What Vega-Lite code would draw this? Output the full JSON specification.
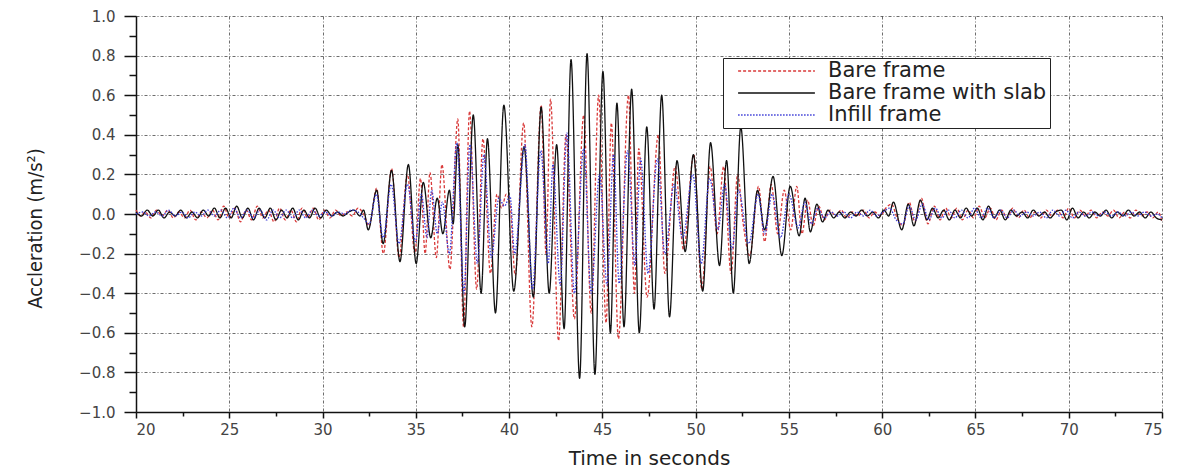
{
"$schema": "https://vega.github.io/schema/vega-lite/v6.json",
"width": 1026, "height": 396,
"autosize": {"type": "none"},
"padding": {"left": 136, "top": 16, "right": 20, "bottom": 59},
"background": "white",
"config": {
 "view": {"stroke": null},
 "legend": {"orient": "none", "legendX": 587, "legendY": 42, "strokeColor": "#222", "fillColor": "white", "padding": 3, "symbolType": "stroke", "symbolSize": 5900, "symbolStrokeWidth": 1.3, "symbolOffset": 11, "labelFont": "DejaVu Sans", "labelFontSize": 21, "labelColor": "#222", "labelOffset": 12, "clipHeight": 20, "rowPadding": 1, "title": null, "labelLimit": 400}
},
"data": {"values": [
{"k":"B","t":20.0,"a":0.02},{"k":"B","t":20.25,"a":-0.01},{"k":"B","t":20.5,"a":0.01},{"k":"B","t":20.8,"a":-0.02},{"k":"B","t":21.1,"a":0.02},{"k":"B","t":21.4,"a":-0.01},{"k":"B","t":21.7,"a":0.02},{"k":"B","t":22.0,"a":-0.02},{"k":"B","t":22.3,"a":0.01},{"k":"B","t":22.6,"a":-0.02},{"k":"B","t":22.9,"a":0.02},{"k":"B","t":23.2,"a":-0.03},{"k":"B","t":23.5,"a":0.01},{"k":"B","t":23.8,"a":-0.02},{"k":"B","t":24.1,"a":0.02},{"k":"B","t":24.4,"a":-0.03},{"k":"B","t":24.7,"a":0.04},{"k":"B","t":25.0,"a":-0.02},{"k":"B","t":25.3,"a":0.03},{"k":"B","t":25.6,"a":-0.04},{"k":"B","t":25.9,"a":0.02},{"k":"B","t":26.2,"a":-0.03},{"k":"B","t":26.5,"a":0.04},{"k":"B","t":26.8,"a":-0.02},{"k":"B","t":27.1,"a":0.02},{"k":"B","t":27.4,"a":-0.04},{"k":"B","t":27.7,"a":0.03},{"k":"B","t":28.0,"a":-0.03},{"k":"B","t":28.3,"a":0.02},{"k":"B","t":28.6,"a":-0.04},{"k":"B","t":28.9,"a":0.03},{"k":"B","t":29.2,"a":-0.02},{"k":"B","t":29.5,"a":0.03},{"k":"B","t":29.8,"a":-0.03},{"k":"B","t":30.1,"a":0.02},{"k":"B","t":30.4,"a":-0.02},{"k":"B","t":30.7,"a":0.02},{"k":"B","t":31.0,"a":-0.01},{"k":"B","t":31.3,"a":0.01},{"k":"B","t":31.6,"a":-0.01},{"k":"B","t":31.9,"a":0.03},{"k":"B","t":32.2,"a":0.0},{"k":"B","t":32.5,"a":-0.06},{"k":"B","t":32.9,"a":0.13},{"k":"B","t":33.26,"a":-0.2},{"k":"B","t":33.7,"a":0.23},{"k":"B","t":34.1,"a":-0.22},{"k":"B","t":34.55,"a":0.2},{"k":"B","t":34.95,"a":-0.2},{"k":"B","t":35.25,"a":0.18},{"k":"B","t":35.5,"a":-0.2},{"k":"B","t":35.76,"a":0.21},{"k":"B","t":36.1,"a":-0.22},{"k":"B","t":36.4,"a":0.25},{"k":"B","t":36.83,"a":-0.28},{"k":"B","t":37.25,"a":0.48},{"k":"B","t":37.56,"a":-0.57},{"k":"B","t":37.88,"a":0.52},{"k":"B","t":38.26,"a":-0.38},{"k":"B","t":38.6,"a":0.38},{"k":"B","t":39.0,"a":-0.3},{"k":"B","t":39.35,"a":0.1},{"k":"B","t":39.6,"a":0.03},{"k":"B","t":39.85,"a":0.1},{"k":"B","t":40.05,"a":0.05},{"k":"B","t":40.33,"a":-0.31},{"k":"B","t":40.78,"a":0.46},{"k":"B","t":41.22,"a":-0.57},{"k":"B","t":41.72,"a":0.55},{"k":"B","t":41.98,"a":-0.2},{"k":"B","t":42.22,"a":0.58},{"k":"B","t":42.65,"a":-0.64},{"k":"B","t":43.05,"a":0.4},{"k":"B","t":43.5,"a":-0.53},{"k":"B","t":44.0,"a":0.5},{"k":"B","t":44.4,"a":-0.5},{"k":"B","t":44.8,"a":0.6},{"k":"B","t":45.2,"a":-0.55},{"k":"B","t":45.48,"a":0.46},{"k":"B","t":45.86,"a":-0.63},{"k":"B","t":46.4,"a":0.6},{"k":"B","t":46.72,"a":-0.4},{"k":"B","t":46.95,"a":0.33},{"k":"B","t":47.4,"a":-0.42},{"k":"B","t":48.0,"a":0.4},{"k":"B","t":48.35,"a":-0.3},{"k":"B","t":48.9,"a":0.24},{"k":"B","t":49.35,"a":-0.18},{"k":"B","t":49.9,"a":0.3},{"k":"B","t":50.33,"a":-0.38},{"k":"B","t":50.78,"a":0.24},{"k":"B","t":51.15,"a":-0.1},{"k":"B","t":51.5,"a":0.24},{"k":"B","t":51.9,"a":-0.3},{"k":"B","t":52.25,"a":0.2},{"k":"B","t":52.55,"a":-0.05},{"k":"B","t":52.9,"a":-0.21},{"k":"B","t":53.37,"a":0.14},{"k":"B","t":53.7,"a":-0.14},{"k":"B","t":54.05,"a":0.15},{"k":"B","t":54.4,"a":-0.1},{"k":"B","t":54.75,"a":0.12},{"k":"B","t":55.1,"a":-0.08},{"k":"B","t":55.42,"a":0.14},{"k":"B","t":55.7,"a":-0.1},{"k":"B","t":56.0,"a":0.07},{"k":"B","t":56.3,"a":-0.06},{"k":"B","t":56.6,"a":0.04},{"k":"B","t":56.9,"a":-0.03},{"k":"B","t":57.2,"a":0.02},{"k":"B","t":57.5,"a":-0.01},{"k":"B","t":57.8,"a":0.02},{"k":"B","t":58.1,"a":-0.02},{"k":"B","t":58.4,"a":0.01},{"k":"B","t":58.7,"a":-0.01},{"k":"B","t":59.0,"a":0.02},{"k":"B","t":59.3,"a":-0.02},{"k":"B","t":59.6,"a":0.01},{"k":"B","t":59.9,"a":-0.01},{"k":"B","t":60.2,"a":0.03},{"k":"B","t":60.5,"a":0.05},{"k":"B","t":60.8,"a":-0.02},{"k":"B","t":61.1,"a":-0.06},{"k":"B","t":61.45,"a":0.06},{"k":"B","t":61.75,"a":-0.04},{"k":"B","t":62.1,"a":0.08},{"k":"B","t":62.45,"a":-0.05},{"k":"B","t":62.8,"a":0.04},{"k":"B","t":63.1,"a":-0.03},{"k":"B","t":63.4,"a":0.03},{"k":"B","t":63.7,"a":-0.02},{"k":"B","t":64.0,"a":0.03},{"k":"B","t":64.3,"a":-0.03},{"k":"B","t":64.6,"a":0.02},{"k":"B","t":64.9,"a":-0.02},{"k":"B","t":65.2,"a":0.04},{"k":"B","t":65.5,"a":-0.02},{"k":"B","t":65.8,"a":0.03},{"k":"B","t":66.1,"a":-0.03},{"k":"B","t":66.4,"a":0.02},{"k":"B","t":66.7,"a":-0.02},{"k":"B","t":67.0,"a":0.03},{"k":"B","t":67.3,"a":-0.02},{"k":"B","t":67.6,"a":0.02},{"k":"B","t":67.9,"a":-0.02},{"k":"B","t":68.2,"a":0.01},{"k":"B","t":68.5,"a":-0.02},{"k":"B","t":68.8,"a":0.02},{"k":"B","t":69.1,"a":-0.01},{"k":"B","t":69.4,"a":0.02},{"k":"B","t":69.7,"a":-0.02},{"k":"B","t":70.0,"a":0.03},{"k":"B","t":70.3,"a":-0.02},{"k":"B","t":70.6,"a":0.02},{"k":"B","t":70.9,"a":-0.01},{"k":"B","t":71.2,"a":0.02},{"k":"B","t":71.5,"a":-0.02},{"k":"B","t":71.8,"a":0.01},{"k":"B","t":72.1,"a":-0.01},{"k":"B","t":72.4,"a":0.02},{"k":"B","t":72.7,"a":-0.02},{"k":"B","t":73.0,"a":0.01},{"k":"B","t":73.3,"a":-0.02},{"k":"B","t":73.6,"a":0.02},{"k":"B","t":73.9,"a":-0.01},{"k":"B","t":74.2,"a":0.01},{"k":"B","t":74.5,"a":-0.02},{"k":"B","t":74.8,"a":0.01},{"k":"B","t":75.0,"a":-0.04},
{"k":"S","t":20.0,"a":0.01},{"k":"S","t":20.3,"a":-0.01},{"k":"S","t":20.6,"a":0.02},{"k":"S","t":20.9,"a":-0.01},{"k":"S","t":21.2,"a":0.02},{"k":"S","t":21.5,"a":-0.02},{"k":"S","t":21.8,"a":0.01},{"k":"S","t":22.1,"a":-0.01},{"k":"S","t":22.4,"a":0.02},{"k":"S","t":22.7,"a":-0.02},{"k":"S","t":23.0,"a":0.01},{"k":"S","t":23.3,"a":-0.02},{"k":"S","t":23.6,"a":0.02},{"k":"S","t":23.9,"a":-0.01},{"k":"S","t":24.2,"a":0.03},{"k":"S","t":24.5,"a":-0.02},{"k":"S","t":24.8,"a":0.03},{"k":"S","t":25.1,"a":-0.02},{"k":"S","t":25.4,"a":0.04},{"k":"S","t":25.7,"a":-0.02},{"k":"S","t":26.0,"a":0.03},{"k":"S","t":26.3,"a":-0.03},{"k":"S","t":26.6,"a":0.03},{"k":"S","t":26.9,"a":-0.02},{"k":"S","t":27.2,"a":0.03},{"k":"S","t":27.5,"a":-0.03},{"k":"S","t":27.8,"a":0.02},{"k":"S","t":28.1,"a":-0.02},{"k":"S","t":28.4,"a":0.03},{"k":"S","t":28.7,"a":-0.03},{"k":"S","t":29.0,"a":0.02},{"k":"S","t":29.3,"a":-0.02},{"k":"S","t":29.6,"a":0.03},{"k":"S","t":29.9,"a":-0.02},{"k":"S","t":30.2,"a":0.02},{"k":"S","t":30.5,"a":-0.01},{"k":"S","t":30.8,"a":0.01},{"k":"S","t":31.1,"a":-0.01},{"k":"S","t":31.4,"a":0.01},{"k":"S","t":31.7,"a":0.02},{"k":"S","t":32.0,"a":-0.01},{"k":"S","t":32.2,"a":0.02},{"k":"S","t":32.45,"a":-0.08},{"k":"S","t":32.9,"a":0.12},{"k":"S","t":33.25,"a":-0.15},{"k":"S","t":33.7,"a":0.22},{"k":"S","t":34.15,"a":-0.24},{"k":"S","t":34.6,"a":0.25},{"k":"S","t":35.02,"a":-0.25},{"k":"S","t":35.4,"a":0.16},{"k":"S","t":35.8,"a":-0.12},{"k":"S","t":36.15,"a":0.08},{"k":"S","t":36.45,"a":-0.1},{"k":"S","t":36.8,"a":0.12},{"k":"S","t":37.0,"a":-0.05},{"k":"S","t":37.25,"a":0.35},{"k":"S","t":37.62,"a":-0.57},{"k":"S","t":38.08,"a":0.5},{"k":"S","t":38.5,"a":-0.4},{"k":"S","t":38.84,"a":0.38},{"k":"S","t":39.27,"a":-0.5},{"k":"S","t":39.72,"a":0.55},{"k":"S","t":40.25,"a":-0.39},{"k":"S","t":40.8,"a":0.34},{"k":"S","t":41.3,"a":-0.42},{"k":"S","t":41.72,"a":0.54},{"k":"S","t":42.15,"a":-0.4},{"k":"S","t":42.55,"a":0.35},{"k":"S","t":42.95,"a":-0.58},{"k":"S","t":43.32,"a":0.78},{"k":"S","t":43.78,"a":-0.83},{"k":"S","t":44.18,"a":0.81},{"k":"S","t":44.6,"a":-0.81},{"k":"S","t":45.03,"a":0.72},{"k":"S","t":45.43,"a":-0.6},{"k":"S","t":45.78,"a":0.56},{"k":"S","t":46.16,"a":-0.57},{"k":"S","t":46.57,"a":0.63},{"k":"S","t":46.98,"a":-0.6},{"k":"S","t":47.38,"a":0.44},{"k":"S","t":47.77,"a":-0.48},{"k":"S","t":48.18,"a":0.6},{"k":"S","t":48.6,"a":-0.52},{"k":"S","t":49.0,"a":0.27},{"k":"S","t":49.44,"a":-0.19},{"k":"S","t":49.88,"a":0.3},{"k":"S","t":50.38,"a":-0.39},{"k":"S","t":50.8,"a":0.36},{"k":"S","t":51.28,"a":-0.26},{"k":"S","t":51.66,"a":0.27},{"k":"S","t":52.02,"a":-0.4},{"k":"S","t":52.42,"a":0.44},{"k":"S","t":52.87,"a":-0.25},{"k":"S","t":53.32,"a":0.12},{"k":"S","t":53.7,"a":-0.08},{"k":"S","t":54.15,"a":0.19},{"k":"S","t":54.62,"a":-0.21},{"k":"S","t":55.07,"a":0.14},{"k":"S","t":55.55,"a":-0.11},{"k":"S","t":55.87,"a":0.08},{"k":"S","t":56.15,"a":-0.09},{"k":"S","t":56.5,"a":0.05},{"k":"S","t":56.8,"a":-0.04},{"k":"S","t":57.1,"a":0.02},{"k":"S","t":57.4,"a":-0.02},{"k":"S","t":57.7,"a":0.01},{"k":"S","t":58.0,"a":-0.02},{"k":"S","t":58.3,"a":0.01},{"k":"S","t":58.6,"a":-0.01},{"k":"S","t":58.9,"a":0.02},{"k":"S","t":59.2,"a":-0.01},{"k":"S","t":59.5,"a":0.01},{"k":"S","t":59.8,"a":-0.02},{"k":"S","t":60.1,"a":0.02},{"k":"S","t":60.35,"a":-0.01},{"k":"S","t":60.6,"a":0.06},{"k":"S","t":61.05,"a":-0.08},{"k":"S","t":61.4,"a":0.05},{"k":"S","t":61.7,"a":-0.06},{"k":"S","t":62.05,"a":0.07},{"k":"S","t":62.4,"a":-0.03},{"k":"S","t":62.7,"a":0.03},{"k":"S","t":63.0,"a":-0.02},{"k":"S","t":63.3,"a":0.02},{"k":"S","t":63.6,"a":-0.03},{"k":"S","t":63.9,"a":0.02},{"k":"S","t":64.2,"a":-0.02},{"k":"S","t":64.5,"a":0.03},{"k":"S","t":64.8,"a":-0.01},{"k":"S","t":65.1,"a":0.03},{"k":"S","t":65.4,"a":-0.03},{"k":"S","t":65.7,"a":0.04},{"k":"S","t":66.0,"a":-0.02},{"k":"S","t":66.3,"a":0.02},{"k":"S","t":66.6,"a":-0.03},{"k":"S","t":66.9,"a":0.02},{"k":"S","t":67.2,"a":-0.01},{"k":"S","t":67.5,"a":0.01},{"k":"S","t":67.8,"a":-0.02},{"k":"S","t":68.1,"a":0.02},{"k":"S","t":68.4,"a":-0.01},{"k":"S","t":68.7,"a":0.01},{"k":"S","t":69.0,"a":-0.02},{"k":"S","t":69.3,"a":0.01},{"k":"S","t":69.6,"a":0.02},{"k":"S","t":69.9,"a":-0.03},{"k":"S","t":70.2,"a":0.03},{"k":"S","t":70.5,"a":-0.02},{"k":"S","t":70.8,"a":0.01},{"k":"S","t":71.1,"a":-0.02},{"k":"S","t":71.4,"a":0.01},{"k":"S","t":71.7,"a":-0.01},{"k":"S","t":72.0,"a":0.02},{"k":"S","t":72.3,"a":-0.02},{"k":"S","t":72.6,"a":0.01},{"k":"S","t":72.9,"a":-0.01},{"k":"S","t":73.2,"a":0.02},{"k":"S","t":73.5,"a":-0.01},{"k":"S","t":73.8,"a":0.01},{"k":"S","t":74.1,"a":-0.02},{"k":"S","t":74.4,"a":0.01},{"k":"S","t":74.7,"a":-0.02},{"k":"S","t":75.0,"a":-0.03},
{"k":"I","t":20.0,"a":0.0},{"k":"I","t":20.35,"a":0.01},{"k":"I","t":20.7,"a":-0.01},{"k":"I","t":21.05,"a":0.01},{"k":"I","t":21.4,"a":-0.01},{"k":"I","t":21.75,"a":0.02},{"k":"I","t":22.1,"a":-0.01},{"k":"I","t":22.45,"a":0.01},{"k":"I","t":22.8,"a":-0.02},{"k":"I","t":23.15,"a":0.01},{"k":"I","t":23.5,"a":-0.01},{"k":"I","t":23.85,"a":0.02},{"k":"I","t":24.2,"a":-0.01},{"k":"I","t":24.55,"a":0.02},{"k":"I","t":24.9,"a":-0.02},{"k":"I","t":25.25,"a":0.03},{"k":"I","t":25.6,"a":-0.02},{"k":"I","t":25.95,"a":0.02},{"k":"I","t":26.3,"a":-0.02},{"k":"I","t":26.65,"a":0.02},{"k":"I","t":27.0,"a":-0.03},{"k":"I","t":27.35,"a":0.02},{"k":"I","t":27.7,"a":-0.02},{"k":"I","t":28.05,"a":0.02},{"k":"I","t":28.4,"a":-0.02},{"k":"I","t":28.75,"a":0.02},{"k":"I","t":29.1,"a":-0.02},{"k":"I","t":29.45,"a":0.02},{"k":"I","t":29.8,"a":-0.01},{"k":"I","t":30.15,"a":0.01},{"k":"I","t":30.5,"a":-0.01},{"k":"I","t":30.85,"a":0.01},{"k":"I","t":31.2,"a":0.0},{"k":"I","t":31.55,"a":0.02},{"k":"I","t":31.9,"a":0.01},{"k":"I","t":32.2,"a":-0.02},{"k":"I","t":32.5,"a":-0.05},{"k":"I","t":32.88,"a":0.1},{"k":"I","t":33.25,"a":-0.12},{"k":"I","t":33.68,"a":0.15},{"k":"I","t":34.1,"a":-0.15},{"k":"I","t":34.55,"a":0.15},{"k":"I","t":34.98,"a":-0.14},{"k":"I","t":35.3,"a":0.1},{"k":"I","t":35.6,"a":-0.12},{"k":"I","t":35.85,"a":0.12},{"k":"I","t":36.15,"a":-0.1},{"k":"I","t":36.42,"a":0.06},{"k":"I","t":36.8,"a":-0.2},{"k":"I","t":37.2,"a":0.36},{"k":"I","t":37.58,"a":-0.4},{"k":"I","t":37.9,"a":0.35},{"k":"I","t":38.3,"a":-0.25},{"k":"I","t":38.65,"a":0.3},{"k":"I","t":39.05,"a":-0.22},{"k":"I","t":39.45,"a":0.08},{"k":"I","t":39.75,"a":0.04},{"k":"I","t":40.05,"a":0.09},{"k":"I","t":40.3,"a":-0.2},{"k":"I","t":40.85,"a":0.35},{"k":"I","t":41.25,"a":-0.38},{"k":"I","t":41.7,"a":0.32},{"k":"I","t":42.1,"a":-0.25},{"k":"I","t":42.35,"a":0.25},{"k":"I","t":42.74,"a":-0.36},{"k":"I","t":43.1,"a":0.41},{"k":"I","t":43.5,"a":-0.4},{"k":"I","t":44.0,"a":0.33},{"k":"I","t":44.4,"a":-0.4},{"k":"I","t":44.85,"a":0.2},{"k":"I","t":45.25,"a":-0.36},{"k":"I","t":45.6,"a":0.3},{"k":"I","t":45.9,"a":-0.35},{"k":"I","t":46.35,"a":0.32},{"k":"I","t":46.75,"a":-0.26},{"k":"I","t":47.05,"a":0.28},{"k":"I","t":47.45,"a":-0.3},{"k":"I","t":47.95,"a":0.28},{"k":"I","t":48.35,"a":-0.2},{"k":"I","t":48.85,"a":0.15},{"k":"I","t":49.3,"a":-0.12},{"k":"I","t":49.85,"a":0.2},{"k":"I","t":50.3,"a":-0.25},{"k":"I","t":50.75,"a":0.18},{"k":"I","t":51.2,"a":-0.08},{"k":"I","t":51.55,"a":0.15},{"k":"I","t":51.95,"a":-0.18},{"k":"I","t":52.3,"a":0.12},{"k":"I","t":52.85,"a":-0.15},{"k":"I","t":53.35,"a":0.1},{"k":"I","t":53.7,"a":-0.1},{"k":"I","t":54.1,"a":0.1},{"k":"I","t":54.55,"a":-0.12},{"k":"I","t":55.0,"a":0.1},{"k":"I","t":55.5,"a":-0.07},{"k":"I","t":55.85,"a":0.06},{"k":"I","t":56.2,"a":-0.05},{"k":"I","t":56.55,"a":0.03},{"k":"I","t":56.9,"a":-0.02},{"k":"I","t":57.25,"a":0.01},{"k":"I","t":57.6,"a":-0.01},{"k":"I","t":57.95,"a":0.01},{"k":"I","t":58.3,"a":-0.02},{"k":"I","t":58.65,"a":0.01},{"k":"I","t":59.0,"a":-0.01},{"k":"I","t":59.35,"a":0.02},{"k":"I","t":59.7,"a":-0.01},{"k":"I","t":60.05,"a":0.01},{"k":"I","t":60.4,"a":0.03},{"k":"I","t":60.75,"a":-0.03},{"k":"I","t":61.1,"a":-0.05},{"k":"I","t":61.45,"a":0.04},{"k":"I","t":61.8,"a":-0.03},{"k":"I","t":62.15,"a":0.05},{"k":"I","t":62.5,"a":-0.03},{"k":"I","t":62.85,"a":0.03},{"k":"I","t":63.2,"a":-0.02},{"k":"I","t":63.55,"a":0.02},{"k":"I","t":63.9,"a":-0.02},{"k":"I","t":64.25,"a":0.02},{"k":"I","t":64.6,"a":-0.02},{"k":"I","t":64.95,"a":0.03},{"k":"I","t":65.3,"a":-0.02},{"k":"I","t":65.65,"a":0.03},{"k":"I","t":66.0,"a":-0.02},{"k":"I","t":66.35,"a":0.02},{"k":"I","t":66.7,"a":-0.02},{"k":"I","t":67.05,"a":0.02},{"k":"I","t":67.4,"a":-0.01},{"k":"I","t":67.75,"a":0.01},{"k":"I","t":68.1,"a":-0.01},{"k":"I","t":68.45,"a":0.01},{"k":"I","t":68.8,"a":-0.02},{"k":"I","t":69.15,"a":0.02},{"k":"I","t":69.5,"a":-0.01},{"k":"I","t":69.85,"a":0.02},{"k":"I","t":70.2,"a":-0.02},{"k":"I","t":70.55,"a":0.01},{"k":"I","t":70.9,"a":-0.01},{"k":"I","t":71.25,"a":0.01},{"k":"I","t":71.6,"a":-0.01},{"k":"I","t":71.95,"a":0.01},{"k":"I","t":72.3,"a":-0.01},{"k":"I","t":72.65,"a":0.01},{"k":"I","t":73.0,"a":-0.01},{"k":"I","t":73.35,"a":0.01},{"k":"I","t":73.7,"a":-0.01},{"k":"I","t":74.05,"a":0.01},{"k":"I","t":74.4,"a":-0.01},{"k":"I","t":74.75,"a":0.0},{"k":"I","t":75.0,"a":-0.02}
]},
"layer": [
 {
  "mark": {"type": "line", "interpolate": "monotone", "strokeWidth": 1.3},
  "encoding": {
   "x": {"field": "t", "type": "quantitative", "scale": {"domain": [20, 75], "nice": false, "zero": false},
    "axis": {"orient": "bottom", "values": [20,25,30,35,40,45,50,55,60,65,70,75], "title": "Time in seconds", "titleFont": "DejaVu Sans", "titleFontSize": 20, "titleFontWeight": "normal", "titleColor": "#222", "titleX": 513, "titleY": 46, "titleBaseline": "middle", "titleAlign": "center",
     "labelFont": "DejaVu Sans", "labelFontSize": 15, "labelColor": "#444", "labelPadding": 4, "tickSize": 6, "tickColor": "#111", "tickWidth": 1.5, "domainColor": "#111", "domainWidth": 1.5,
     "grid": true, "gridColor": "#333", "gridDash": [3, 2, 1, 2], "gridWidth": 0.8, "gridOpacity": 0.9}},
   "y": {"field": "a", "type": "quantitative", "scale": {"domain": [-1, 1], "nice": false, "zero": false},
    "axis": {"orient": "left", "values": [-1,-0.8,-0.6,-0.4,-0.2,0,0.2,0.4,0.6,0.8,1], "format": ".1f", "title": "Accleration (m/s²)", "titleFont": "Liberation Sans Narrow, DejaVu Sans Condensed, Liberation Sans", "titleFontSize": 20, "titleFontWeight": "normal", "titleColor": "#222", "titleX": -101, "titleY": 212, "titleAngle": -90, "titleBaseline": "middle", "titleAlign": "center",
     "labelFont": "DejaVu Sans", "labelFontSize": 15, "labelColor": "#444", "labelPadding": 9, "tickSize": 12, "tickColor": "#111", "tickWidth": 1.5, "domainColor": "#111", "domainWidth": 1.5,
     "grid": true, "gridColor": "#333", "gridDash": [3, 2, 1, 2], "gridWidth": 0.8, "gridOpacity": 0.9}},
   "color": {"field": "k", "type": "nominal", "scale": {"domain": ["B", "S", "I"], "range": ["#d93a3a", "#111111", "#3a3ad6"]},
    "legend": {"labelExpr": "datum.label == 'B' ? 'Bare frame' : datum.label == 'S' ? 'Bare frame with slab' : 'Infill frame'"}},
   "strokeDash": {"field": "k", "type": "nominal", "scale": {"domain": ["B", "S", "I"], "range": [[3, 2], [1, 0], [1.5, 1.5]]},
    "legend": {"labelExpr": "datum.label == 'B' ? 'Bare frame' : datum.label == 'S' ? 'Bare frame with slab' : 'Infill frame'"}}
  }
 },
 {
  "transform": [{"filter": "datum.t == 20"}],
  "mark": {"type": "point", "opacity": 0},
  "encoding": {
   "x": {"field": "t", "type": "quantitative", "scale": {"domain": [20, 75], "nice": false, "zero": false},
    "axis": {"orient": "bottom", "values": [22.5,27.5,32.5,37.5,42.5,47.5,52.5,57.5,62.5,67.5,72.5], "labels": false, "grid": false, "domain": false, "title": null, "tickSize": 4, "tickWidth": 1.5, "tickColor": "#111"}},
   "y": {"field": "a", "type": "quantitative", "scale": {"domain": [-1, 1], "nice": false, "zero": false},
    "axis": {"orient": "left", "values": [-0.9,-0.7,-0.5,-0.3,-0.1,0.1,0.3,0.5,0.7,0.9], "labels": false, "grid": false, "domain": false, "title": null, "tickSize": 7, "tickWidth": 1.5, "tickColor": "#111"}}
  }
 }
],
"resolve": {"axis": {"x": "independent", "y": "independent"}}
}
